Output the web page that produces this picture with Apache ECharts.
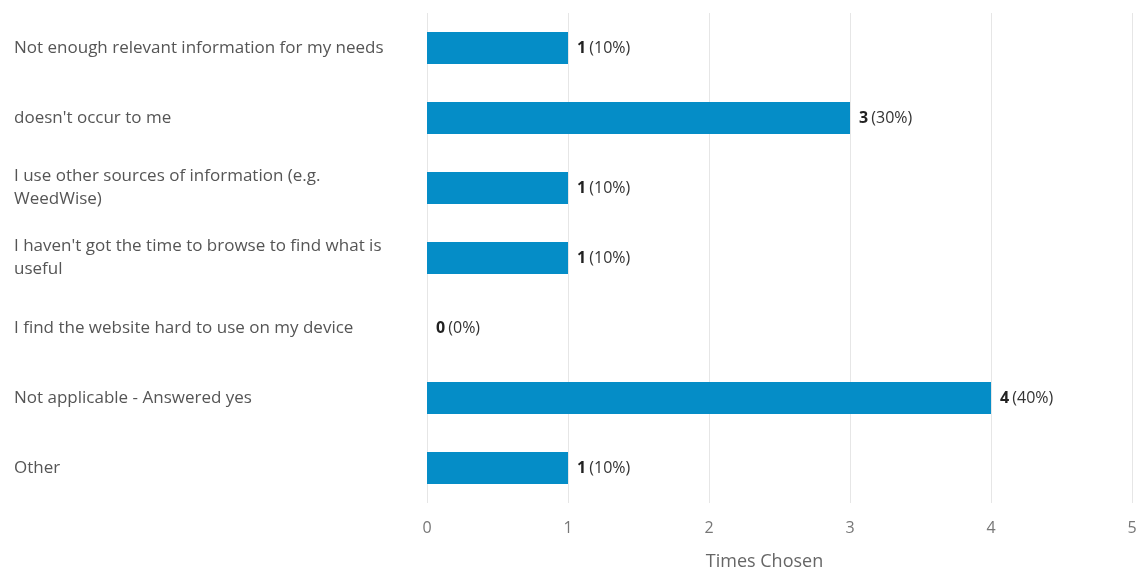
<!DOCTYPE html>
<html>
<head>
<meta charset="utf-8">
<script src="https://cdn.jsdelivr.net/npm/echarts@6/dist/echarts.min.js"></script>
<style>
    html, body { margin: 0; padding: 0; background: #fff; }
    #chart { width: 1137px; height: 569px; }
</style>
</head>
<body>
<div id="chart"></div>
<script>
    // 选项名称
    var categories = [
        'Not enough relevant information for my needs',
        "doesn't occur to me",
        'I use other sources of information (e.g. WeedWise)',
        "I haven't got the time to browse to find what is useful",
        'I find the website hard to use on my device',
        'Not applicable - Answered yes',
        'Other'
    ]
    // 选择次数
    var counts = [1, 3, 1, 1, 0, 4, 1]
    var totalResponses = 10
    var xTicks = [0, 1, 2, 3, 4, 5]

    var chartInstance = echarts.init(document.getElementById('chart'))
    var option = {
        textStyle: { fontFamily: 'Open Sans' },
        grid: { left: 427, right: 5, top: 13, bottom: 66, containLabel: false, outerBoundsMode: 'none' },
        xAxis: {
            type: 'value',
            min: xTicks[0],
            max: xTicks[xTicks.length - 1],
            interval: 1,
            name: 'Times Chosen',
            nameLocation: 'middle',
            nameGap: 50,
            nameTextStyle: { color: '#666', fontSize: 18, fontFamily: 'Open Sans', padding: [0, 30, 0, 0] },
            axisLine: { show: false },
            axisTick: { show: false },
            axisLabel: { color: '#777', fontSize: 16, margin: 17, fontFamily: 'Open Sans' },
            splitLine: { lineStyle: { color: '#e6e6e6', width: 1 } }
        },
        yAxis: {
            type: 'category',
            inverse: true,
            data: categories,
            axisLine: { show: false },
            axisTick: { show: false },
            splitLine: { show: false },
            axisLabel: {
                align: 'left',
                margin: 413,
                width: 385,
                overflow: 'break',
                color: '#555',
                fontSize: 17,
                lineHeight: 23,
                fontFamily: 'Open Sans'
            }
        },
        series: [{
            type: 'bar',
            data: counts,
            barWidth: 32,
            itemStyle: { color: '#058dc7' },
            label: {
                show: true,
                position: 'right',
                distance: 9,
                formatter: function (p) {
                    var pct = Math.round(p.value / totalResponses * 100)
                    return '{b|' + p.value + '} {n|(' + pct + '%)}'
                },
                rich: {
                    b: { fontWeight: 'bold', color: '#222', fontSize: 16, fontFamily: 'Open Sans' },
                    n: { color: '#333', fontSize: 16, fontFamily: 'Open Sans' }
                }
            }
        }]
    }
    chartInstance.setOption(option)
</script>
</body>
</html>
